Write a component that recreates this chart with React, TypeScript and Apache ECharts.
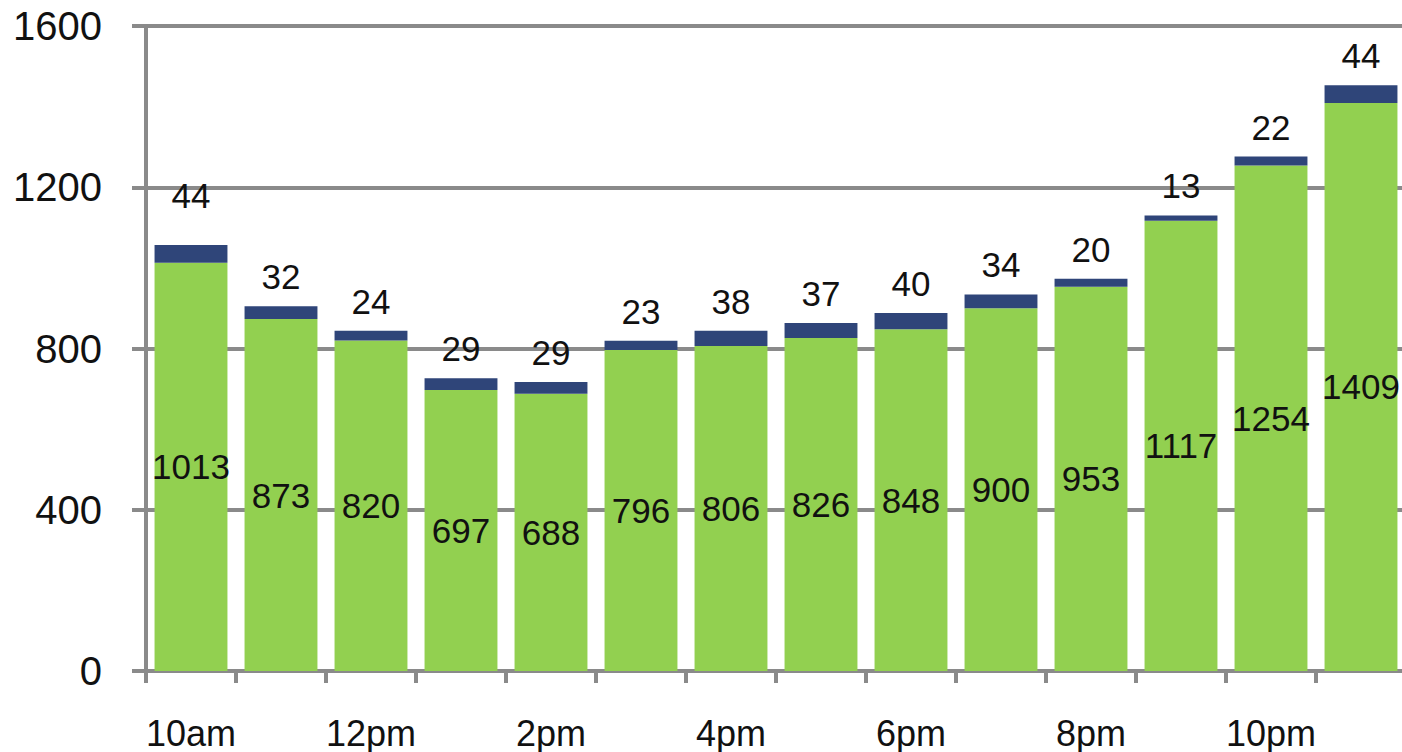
import React, { useEffect, useRef } from "react";
import * as echarts from "echarts";

const categories = ["10am", "11am", "12pm", "1pm", "2pm", "3pm", "4pm", "5pm", "6pm", "7pm", "8pm", "9pm", "10pm", "11pm"];
const greenValues = [1013, 873, 820, 697, 688, 796, 806, 826, 848, 900, 953, 1117, 1254, 1409];
const navyValues = [44, 32, 24, 29, 29, 23, 38, 37, 40, 34, 20, 13, 22, 44];
const yTicks = { min: 0, max: 1600, interval: 400 };

const FONT = "'Liberation Sans', Arial, sans-serif";
const GRAY = "#8a8a8a";

export default function App() {
  const ref = useRef<HTMLDivElement>(null);
  useEffect(() => {
    if (!ref.current) return;
    const chart = echarts.init(ref.current, undefined, { renderer: "svg" });
    chart.setOption({
      animation: false,
      textStyle: { fontFamily: FONT },
      grid: { left: 146, right: 4, top: 26, bottom: 81, containLabel: false },
      xAxis: {
        type: "category",
        data: categories,
        boundaryGap: true,
        axisLine: { show: true, lineStyle: { color: GRAY, width: 4 } },
        axisTick: { show: true, interval: 0, length: 12, lineStyle: { color: GRAY, width: 4 } },
        axisLabel: { interval: 1, fontSize: 36, color: "#111", margin: 44, fontFamily: FONT },
        splitLine: { show: false },
      },
      yAxis: {
        type: "value",
        min: yTicks.min,
        max: yTicks.max,
        interval: yTicks.interval,
        axisLine: { show: true, lineStyle: { color: GRAY, width: 4 } },
        axisTick: { show: true, length: 14, lineStyle: { color: GRAY, width: 4 } },
        axisLabel: {
          fontSize: 40,
          color: "#111",
          margin: 44,
          fontFamily: FONT,
          formatter: (v: number) => String(v),
        },
        splitLine: { show: true, lineStyle: { color: GRAY, width: 4 } },
      },
      series: [
        {
          type: "bar",
          stack: "total",
          data: greenValues,
          barCategoryGap: "19%",
          itemStyle: { color: "#92D050" },
          label: { show: true, position: "inside", fontSize: 35, color: "#111", fontFamily: FONT },
        },
        {
          type: "bar",
          stack: "total",
          data: navyValues.map((v, i) => (i === 0 ? { value: v, label: { distance: 32 } } : v)),
          barCategoryGap: "19%",
          itemStyle: { color: "#2F4579" },
          label: { show: true, position: "top", distance: 12, fontSize: 35, color: "#111", fontFamily: FONT },
        },
      ],
    });
    return () => chart.dispose();
  }, []);
  return (
    <div
      ref={ref}
      style={{ position: "fixed", left: 0, top: 0, width: 1410, height: 752, background: "#fff" }}
    />
  );
}
